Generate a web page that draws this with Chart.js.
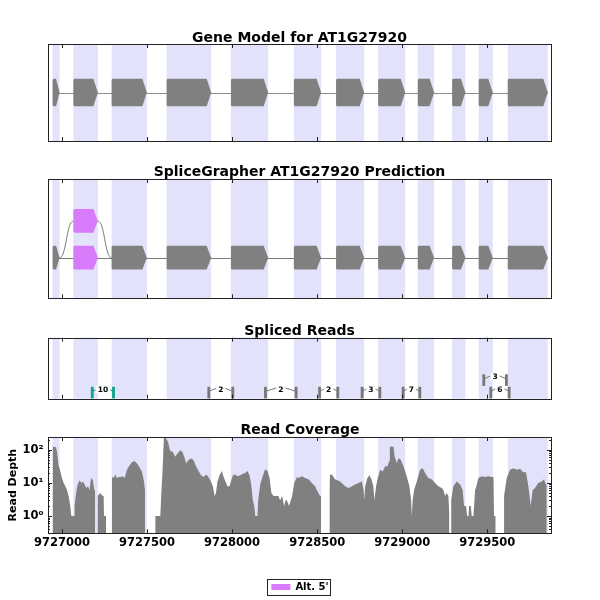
<!DOCTYPE html>
<html>
<head>
<meta charset="utf-8">
<script src="https://cdn.jsdelivr.net/npm/chart.js@4.4.1/dist/chart.umd.min.js"></script>
<style>
  html, body { margin: 0; padding: 0; background: #fff; overflow: hidden; width: 600px; height: 600px; }
  canvas { position: absolute; left: 0; }
</style>
</head>
<body>
<canvas id="geneChart" width="600" height="124" style="top:20px"></canvas>
<canvas id="predChart" width="600" height="141" style="top:160px"></canvas>
<canvas id="readsChart" width="600" height="82" style="top:320px"></canvas>
<canvas id="covChart" width="600" height="182" style="top:420px"></canvas>
<script>
// genomic window + ticks
var xMin = 9726918, xMax = 9729874;
var xTicks = [9727000, 9727500, 9728000, 9728500, 9729000, 9729500];

// gene model exons
var geneStarts = [9726945, 9727067, 9727292, 9727615, 9727993, 9728363, 9728611, 9728858, 9729091, 9729293, 9729449, 9729620];
var geneEnds   = [9726986, 9727211, 9727499, 9727877, 9728212, 9728523, 9728776, 9729017, 9729187, 9729371, 9729532, 9729855];

// SpliceGrapher prediction (last one is the alternative 5' exon on the upper row)
var predStarts = [9726945, 9727067, 9727292, 9727615, 9727993, 9728363, 9728611, 9728858, 9729091, 9729293, 9729449, 9729620, 9727067];
var predEnds   = [9726986, 9727211, 9727499, 9727877, 9728212, 9728523, 9728776, 9729017, 9729187, 9729371, 9729532, 9729855, 9727211];
var predRows   = [0, 0, 0, 0, 0, 0, 0, 0, 0, 0, 0, 0, 1];
var predAlt    = [0, 1, 0, 0, 0, 0, 0, 0, 0, 0, 0, 0, 1];
var predCurves = [[0, 12], [12, 2]];

// spliced reads (junctions)
var juncStarts = [9727178, 9727863, 9728196, 9728514, 9728764, 9729005, 9729479, 9729520];
var juncEnds   = [9727303, 9728004, 9728376, 9728621, 9728868, 9729103, 9729612, 9729628];
var juncCounts = [10, 2, 2, 2, 3, 7, 3, 6];
var juncRows   = [0, 0, 0, 0, 0, 0, 1, 0];
var juncAlt    = [1, 0, 0, 0, 0, 0, 0, 0];

// read coverage (null = no reads)
var covPos = [
  9726945, 9726955, 9726965, 9726971, 9726980, 9726990, 9727000, 9727010, 9727020, 9727030,
  9727039, 9727049, 9727055, 9727071, 9727074, 9727083, 9727092, 9727104, 9727114, 9727124,
  9727133, 9727143, 9727153, 9727162, 9727171, 9727182, 9727190, 9727195, 9727197,
  9727209, 9727225, 9727239, 9727245, 9727247, 9727259, 9727262,
  9727294, 9727303, 9727313, 9727323, 9727333, 9727343, 9727356, 9727368, 9727382, 9727396,
  9727411, 9727427, 9727441, 9727454, 9727470, 9727482, 9727488, 9727491,
  9727548, 9727578, 9727584, 9727591, 9727599, 9727611, 9727623, 9727636, 9727651, 9727666,
  9727679, 9727695, 9727707, 9727719, 9727730, 9727744, 9727758, 9727773, 9727789, 9727803,
  9727817, 9727832, 9727848, 9727861, 9727875, 9727887, 9727897, 9727905, 9727914, 9727926,
  9727940, 9727950, 9727961, 9727973, 9727985, 9727995, 9728005, 9728018, 9728032, 9728048,
  9728063, 9728077, 9728090, 9728102, 9728112, 9728122, 9728130, 9728136, 9728149, 9728153,
  9728165, 9728178, 9728194, 9728208, 9728220, 9728231, 9728243, 9728259, 9728272, 9728282,
  9728294, 9728306, 9728314, 9728322, 9728334, 9728345, 9728353, 9728365, 9728381, 9728390,
  9728410, 9728428, 9728449, 9728469, 9728488, 9728498, 9728517, 9728523, 9728526,
  9728572, 9728576, 9728586, 9728605, 9728635, 9728664, 9728684, 9728704, 9728723, 9728742,
  9728762, 9728773, 9728776, 9728782, 9728795, 9728807, 9728819, 9728830, 9728836, 9728846,
  9728856, 9728870, 9728885, 9728899, 9728913, 9728923, 9728927, 9728948, 9728955, 9728968,
  9728977, 9728991, 9729007, 9729026, 9729042, 9729052, 9729056, 9729061, 9729069, 9729085,
  9729105, 9729120, 9729134, 9729153, 9729173, 9729193, 9729212, 9729232, 9729242, 9729252,
  9729261, 9729271, 9729277, 9729281,
  9729287, 9729300, 9729320, 9729340, 9729355, 9729363, 9729375, 9729381, 9729389, 9729393,
  9729403, 9729408, 9729418, 9729428, 9729438, 9729447, 9729467, 9729486, 9729506, 9729526,
  9729536, 9729539, 9729549, 9729552,
  9729598, 9729614, 9729633, 9729653, 9729673, 9729692, 9729711, 9729727, 9729741, 9729755,
  9729766, 9729780, 9729799, 9729819, 9729833, 9729843, 9729849
];
var covDepth = [
  124, 124, 118, 88, 35, 23, 14, 10, 8, 6,
  4, 2, 1, 1, 2, 5, 9, 12, 10, 11,
  9, 7, 8, 6, 14, 12, 6, 6, null,
  4, 5, 4, 4, 1, 1, null,
  15, 14, 18, 14, 15, 15, 16, 14, 25, 33,
  42, 46, 39, 31, 22, 11, 6, null,
  1, 1, 5, 22, 230, 230, 175, 92, 88, 62,
  78, 98, 88, 62, 39, 49, 55, 49, 31, 23,
  17, 15, 18, 15, 11, 8, 4, 5, 11, 17,
  23, 15, 11, 8, 8, 12, 17, 18, 16, 17,
  19, 20, 23, 17, 9, 3, 2, 1, 1, 3,
  9, 15, 26, 23, 14, 5, 4, 4, 4, 3,
  4, 2, 3, 3, 2, 3, 4, 10, 15, 14,
  16, 14, 13, 10, 8, 6, 4, 4, null,
  10, 18, 18, 13, 11, 8, 7, 8, 9, 10,
  11, 6, 3, 8, 14, 17, 13, 8, 3, 8,
  14, 25, 22, 32, 32, 45, 126, 124, 63, 40,
  56, 50, 32, 16, 8, 3, 1, 3, 6, 11,
  25, 28, 20, 14, 13, 10, 8, 7, 6, 4,
  5, 4, 1, null,
  3, 8, 11, 9, 6, 2, 2, 1, 1, 2,
  2, 1, 1, 6, 9, 14, 16, 15, 16, 15,
  15, 1, 1, null,
  4, 14, 25, 28, 25, 27, 21, 21, 8, 2,
  6, 7, 10, 11, 13, 9, 9
];
var yTicks = [1, 10, 100];
var yTickLabels = ['10\u2070', '10\u00b9', '10\u00b2'];
var legendLabels = ["Alt. 5'"];

var GRAY = '#808080', BAND = '#e2e2fb', ALT = '#d87bfa', TEAL = '#0aa58a';

Chart.defaults.font.family = "'DejaVu Sans', sans-serif";
Chart.defaults.font.weight = 'bold';
Chart.defaults.color = '#000';

// lavender bands behind every panel
var bandsPlugin = {
  id: 'bands',
  beforeDatasetsDraw: function(chart) {
    var ctx = chart.ctx, a = chart.chartArea, x = chart.scales.x;
    ctx.save();
    ctx.fillStyle = BAND;
    geneStarts.forEach(function(s, i) {
      var x0 = x.getPixelForValue(s), x1 = x.getPixelForValue(geneEnds[i]);
      ctx.fillRect(x0, a.top, x1 - x0, a.bottom - a.top);
    });
    ctx.restore();
  }
};

// box + inward ticks
var framePlugin = {
  id: 'frame',
  afterDraw: function(chart) {
    var ctx = chart.ctx, a = chart.chartArea, x = chart.scales.x, y = chart.scales.y;
    ctx.save();
    ctx.strokeStyle = '#222';
    ctx.lineWidth = 1;
    ctx.strokeRect(Math.round(a.left) + 0.5, Math.round(a.top) + 0.5, Math.round(a.right - a.left), Math.round(a.bottom - a.top));
    ctx.beginPath();
    xTicks.forEach(function(t) {
      var p = Math.round(x.getPixelForValue(t)) + 0.5;
      ctx.moveTo(p, a.bottom); ctx.lineTo(p, a.bottom - 4);
      ctx.moveTo(p, a.top); ctx.lineTo(p, a.top + 4);
    });
    if (y.type === 'logarithmic') {
      [0.1, 1, 10, 100].forEach(function(d) {
        for (var k = 1; k < 10; k++) {
          var v = k * d;
          if (v < y.min || v > y.max) continue;
          var p = Math.round(y.getPixelForValue(v)) + 0.5, len = k === 1 ? 4 : 2;
          ctx.moveTo(a.left, p); ctx.lineTo(a.left + len, p);
          ctx.moveTo(a.right, p); ctx.lineTo(a.right - len, p);
        }
      });
    }
    ctx.stroke();
    ctx.restore();
  }
};

function drawExon(ctx, x0, x1, yc, h, color) {
  var head = Math.min(4.5, (x1 - x0) * 0.5);
  ctx.fillStyle = color;
  ctx.beginPath();
  ctx.moveTo(x0, yc - h / 2 + 1);
  ctx.lineTo(x0 + 1, yc - h / 2);
  ctx.lineTo(x1 - head, yc - h / 2);
  ctx.lineTo(x1, yc);
  ctx.lineTo(x1 - head, yc + h / 2);
  ctx.lineTo(x0 + 1, yc + h / 2);
  ctx.lineTo(x0, yc + h / 2 - 1);
  ctx.closePath();
  ctx.fill();
}

function drawGene(chart) {
  var ctx = chart.ctx, x = chart.scales.x, y = chart.scales.y;
  var yc = y.getPixelForValue(0.5), h = y.getPixelForValue(0.357) - y.getPixelForValue(0.643);
  ctx.save();
  ctx.strokeStyle = '#8c8c8c'; ctx.lineWidth = 1;
  ctx.beginPath();
  ctx.moveTo(x.getPixelForValue(geneStarts[0]), Math.round(yc) + 0.5);
  ctx.lineTo(x.getPixelForValue(geneEnds[geneEnds.length - 1]), Math.round(yc) + 0.5);
  ctx.stroke();
  geneStarts.forEach(function(s, i) {
    drawExon(ctx, x.getPixelForValue(s), x.getPixelForValue(geneEnds[i]), yc, h, GRAY);
  });
  ctx.restore();
}

var predRowY = [0.34, 0.648];
function drawPred(chart) {
  var ctx = chart.ctx, x = chart.scales.x, y = chart.scales.y;
  var h = y.getPixelForValue(0) - y.getPixelForValue(0.199);
  var y0 = y.getPixelForValue(predRowY[0]);
  ctx.save();
  ctx.strokeStyle = '#7a7a7a'; ctx.lineWidth = 1;
  ctx.beginPath();
  ctx.moveTo(x.getPixelForValue(predStarts[0]), Math.round(y0) + 0.5);
  ctx.lineTo(x.getPixelForValue(predEnds[11]), Math.round(y0) + 0.5);
  predCurves.forEach(function(c) {
    var xa = x.getPixelForValue(predEnds[c[0]]), ya = y.getPixelForValue(predRowY[predRows[c[0]]]);
    var xb = x.getPixelForValue(predStarts[c[1]]), yb = y.getPixelForValue(predRowY[predRows[c[1]]]);
    var xm = (xa + xb) / 2;
    ctx.moveTo(xa, ya);
    ctx.bezierCurveTo(xm, ya, xm, yb, xb, yb);
  });
  ctx.stroke();
  predStarts.forEach(function(s, i) {
    drawExon(ctx, x.getPixelForValue(s), x.getPixelForValue(predEnds[i]),
      y.getPixelForValue(predRowY[predRows[i]]), h, predAlt[i] ? ALT : GRAY);
  });
  ctx.restore();
}

function drawReads(chart) {
  var ctx = chart.ctx, x = chart.scales.x, y = chart.scales.y;
  ctx.save();
  ctx.font = 'bold 7.5px "DejaVu Sans"';
  ctx.textAlign = 'center';
  ctx.textBaseline = 'middle';
  juncStarts.forEach(function(s, i) {
    var base = juncRows[i] * 0.205, col = juncAlt[i] ? TEAL : '#777';
    var x1 = x.getPixelForValue(s), x2 = x.getPixelForValue(juncEnds[i]), xm = (x1 + x2) / 2;
    var yb = y.getPixelForValue(base + 0.005), yt = y.getPixelForValue(base + 0.195);
    ctx.fillStyle = col;
    ctx.fillRect(x1 - 1.4, yt, 2.8, yb - yt);
    ctx.fillRect(x2 - 1.4, yt, 2.8, yb - yt);
    ctx.strokeStyle = col; ctx.lineWidth = 1;
    ctx.beginPath();
    ctx.moveTo(x1, y.getPixelForValue(base + 0.12));
    ctx.lineTo(xm, y.getPixelForValue(base + 0.2));
    ctx.lineTo(x2, y.getPixelForValue(base + 0.12));
    ctx.stroke();
    var label = String(juncCounts[i]), w = ctx.measureText(label).width + 4;
    var ym = y.getPixelForValue(base + 0.15);
    ctx.fillStyle = '#fff';
    ctx.fillRect(xm - w / 2, ym - 3.5, w, 7);
    ctx.fillStyle = '#000';
    ctx.fillText(label, xm, ym);
  });
  ctx.restore();
}

function trackChart(id, title, titlePad, bottomPad, drawFn) {
  return new Chart(id, {
    type: 'scatter',
    data: { datasets: [] },
    options: {
      responsive: false, animation: false, events: [],
      layout: { padding: { left: 48, right: 49, top: 0, bottom: bottomPad } },
      plugins: {
        legend: { display: false },
        tooltip: { enabled: false },
        title: { display: true, text: title, color: '#000',
                 font: { size: 14, weight: 'bold', lineHeight: 1 }, padding: titlePad }
      },
      scales: {
        x: { type: 'linear', min: xMin, max: xMax, display: false },
        y: { type: 'linear', min: 0, max: 1, display: false }
      }
    },
    plugins: [bandsPlugin, { id: 'track', afterDatasetsDraw: drawFn }, framePlugin]
  });
}

trackChart('geneChart', 'Gene Model for AT1G27920', { top: 11, bottom: -1 }, 3, drawGene);
trackChart('predChart', 'SpliceGrapher AT1G27920 Prediction', { top: 5.5, bottom: -0.5 }, 2.7, drawPred);
trackChart('readsChart', 'Spliced Reads', { top: 4.5, bottom: -0.8 }, 3.3, drawReads);

// legend frame
var legendBoxPlugin = {
  id: 'legendBox',
  afterDraw: function(chart) {
    var hb = chart.legend.legendHitBoxes[0];
    if (!hb) return;
    var ctx = chart.ctx, cy = hb.top + hb.height / 2;
    ctx.save();
    ctx.strokeStyle = '#222'; ctx.lineWidth = 1;
    ctx.strokeRect(Math.round(hb.left - 4) + 0.5, Math.round(cy - 8) + 0.5, Math.round(hb.width + 6), 16);
    ctx.restore();
  }
};

new Chart('covChart', {
  type: 'line',
  data: {
    datasets: [{
      label: 'Read Coverage',
      data: covPos.map(function(p, i) { return { x: p, y: covDepth[i] }; }),
      backgroundColor: GRAY,
      borderWidth: 0,
      pointRadius: 0,
      fill: 'start',
      spanGaps: false
    }]
  },
  options: {
    responsive: false, animation: false, events: [],
    layout: { padding: 0 },
    plugins: {
      tooltip: { enabled: false },
      title: { display: true, text: 'Read Coverage', color: '#000',
               font: { size: 14, weight: 'bold', lineHeight: 1 }, padding: { top: 3.5, bottom: -0.5 } },
      legend: {
        display: true, position: 'bottom',
        labels: {
          boxWidth: 19, boxHeight: 6, padding: 4, color: '#000',
          font: { size: 10, weight: 'bold' },
          generateLabels: function() {
            return legendLabels.map(function(t) {
              return { text: t, fillStyle: ALT, strokeStyle: ALT, lineWidth: 0, hidden: false, datasetIndex: 0 };
            });
          }
        }
      }
    },
    scales: {
      x: {
        type: 'linear', min: xMin, max: xMax,
        afterBuildTicks: function(s) { s.ticks = xTicks.map(function(v) { return { value: v }; }); },
        afterFit: function(s) { s.height = 44.7; },
        grid: { display: false, drawTicks: false },
        border: { display: false },
        ticks: { autoSkip: false, maxRotation: 0, padding: 3, color: '#000',
                 font: { size: 11.5, weight: 'bold' },
                 callback: function(v) { return String(v); } }
      },
      y: {
        type: 'logarithmic', min: 0.32, max: 245,
        afterBuildTicks: function(s) { s.ticks = yTicks.map(function(v) { return { value: v }; }); },
        afterFit: function(s) { s.width = 48; },
        grid: { display: false, drawTicks: false },
        border: { display: false },
        ticks: { padding: 4.5, color: '#000', font: { size: 11.5, weight: 'bold' },
                 callback: function(v, i) { return yTickLabels[i]; } },
        title: { display: true, text: 'Read Depth', color: '#000',
                 font: { size: 11, weight: 'bold' }, padding: { top: 7, bottom: 0 } }
      },
      yRight: {
        type: 'logarithmic', position: 'right', display: true, min: 0.32, max: 245,
        afterFit: function(s) { s.width = 49; },
        grid: { display: false, drawTicks: false },
        border: { display: false },
        ticks: { display: false }
      }
    }
  },
  plugins: [bandsPlugin, framePlugin, legendBoxPlugin]
});
</script>
</body>
</html>
